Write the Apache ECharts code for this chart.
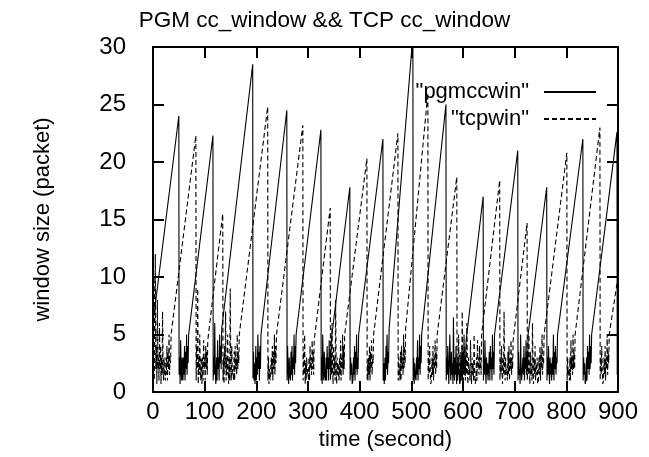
<!DOCTYPE html>
<html>
<head>
<meta charset="utf-8">
<script src="https://cdn.jsdelivr.net/npm/echarts/dist/echarts.min.js"></script>
<style>html,body{margin:0;padding:0;background:#fff;}#c{width:649px;height:457px;}</style>
</head>
<body>
<div id="c"></div>
<script>
const titleText = 'PGM cc_window && TCP cc_window';
const xName = 'time (second)';
const yName = 'window size (packet)';
const seriesNames = ['"pgmccwin"', '"tcpwin"'];
const xTicks = [0, 100, 200, 300, 400, 500, 600, 700, 800, 900];
const yTicks = [0, 5, 10, 15, 20, 25, 30];

// [time (s), window (packets)]
const pgmccwin = [
[0,6],[50,24],[50.5,1.5],[51.5,3],[52.5,0.7],[53.5,4.5],[54.5,2],[55.5,1],[56.5,3],[57.5,1.5],
[58,1],[59,3],[60,1.5],[61,4],[62,1],[63,3.5],[64,2],[65,5],[66,1.5],[67,4],[68,2.5],[69,5],
[116,22.3],[116.5,1],[117.5,3],[118.5,1.5],[119.5,6],[120.5,2],[121.5,0.7],
[122,1],[123,3],[124,1],[125,4.5],[126,2],[127,3],[128,1],[129,5],[130,2.5],[131,4],[132,2],[133,5.5],
[193,28.5],[193.5,1.2],[194.5,3.5],[195.5,1],[196.5,2.5],[197.5,0.7],
[198,1.5],[199,4],[200,1],[201,3],[202,1.5],[203,5],[204,2],[205,3.5],[206,1],[207,4],[208,2],[209,5],
[259,24.5],[259.5,1],[260.5,4],[261.5,2],[262.5,0.7],[263.5,3],[264.5,1.5],
[266,1],[267,3.5],[268,1.5],[269,4],[270,1],[271,3],[272,2],[273,5],[274,1.5],[275,4],[276,2.5],[277,5],
[325,22.8],[325.5,1],[326.5,3],[327.5,0.7],[328.5,5],[329.5,2],[330.5,1],[331.5,3.5],[332.5,1.5],
[334,1],[335,3],[336,1],[337,4],[338,2],[339,3],[340,1],[341,4.5],[342,2],[343,3.5],[344,1.5],[345,4.5],
[381,17.8],[381.5,1],[382.5,3],[383.5,1.5],[384.5,2.5],[385.5,0.7],
[387,1],[388,3],[389,1.5],[390,4],[391,1],[392,3.5],[393,2],[394,5],[395,1.5],[396,3],[397,2],[398,5],
[445,22],[445.5,1],[446.5,2.5],[447.5,0.7],
[448,1.2],[449,3],[450,1],[451,4],[452,2],[453,5],[454,1.5],[455,3.5],[456,2.5],[457,5.5],
[503,31],[503.5,1],[504.5,3],[505.5,0.7],[506.5,2.5],[507.5,1.5],
[509,1],[510,3],[511,1.5],[512,4.5],[513,1],[514,3],[515,2],[516,5],[517,1.5],[518,4],[519,2.5],[520,5],
[567,25],[567.5,1],[568.5,3],[569.5,1.5],[570.5,4],[571.5,2],[572.5,0.7],[573.5,3],[574.5,5],[575.5,2],[576.5,1],[577.5,3.5],[578.5,1.5],[579.5,2.5],[580.5,0.7],[581.5,6.5],[582.5,2],[583.5,1],[584.5,3],[585.5,1.5],[586.5,4],[587.5,0.7],[588.5,2.5],[589.5,1],[590.5,3],[591.5,1.5],[592.5,2],[593.5,0.7],
[595,1],[596,3],[597,1.5],[598,4],[599,1],[600,3.5],[601,2],[602,5],[603,1.5],[604,3],[605,2],[606,4.5],
[639,17],[639.5,1],[640.5,3],[641.5,1.5],[642.5,4.5],[643.5,2],[644.5,0.7],[645.5,3],[646.5,1.5],[647.5,2.5],[648.5,1],
[650,1],[651,3.5],[652,1],[653,4],[654,2],[655,3],[656,1],[657,5],[658,2],[659,3.5],[660,1.5],[661,5],
[706,21],[706.5,1],[707.5,3.5],[708.5,1.5],[709.5,2],[710.5,0.7],[711.5,5],[712.5,2],[713.5,1],
[715,1],[716,3],[717,1.5],[718,4],[719,1],[720,3],[721,2],[722,4.5],[723,1.5],[724,3.5],[725,2],[726,5],
[762,17.8],[762.5,1],[763.5,3],[764.5,1.5],[765.5,4],[766.5,2],[767.5,0.7],[768.5,3],[769.5,1.5],[770.5,2.5],[771.5,1],
[772,1],[773,3],[774,1.5],[775,5],[776,1],[777,3.5],[778,2],[779,4],[780,1.5],[781,3],[782,2.5],[783,5],
[832,22],[832.5,1],[833.5,3],[834.5,1.5],[835.5,2.5],[836.5,0.7],
[838,1],[839,3],[840,1],[841,4],[842,2],[843,3.5],[844,1.5],[845,5],[846,2],[847,4],[848,2.5],[849,5],
[898,22.6],[898.5,1.5],[899.5,3],[900,2]
];

const tcpwin = [
[0,14],[0.5,3],[1.5,10],[2.5,1],[3.5,5],[4.5,12],[5.5,2],[6.5,4],[7.5,0.7],[8.5,8],[9.5,2],[10.5,3],[11.5,1],[12.5,6],[13.5,2],[14.5,4],[15.5,0.7],[16.5,3],[17.5,1.5],[18.5,7],[19.5,2],[20.5,1],[21.5,3],[22.5,1.5],
[24,1],[25,3],[26,1.5],[27,4],[28,1],[29,3.5],[30,2],[31,5],[32,1.5],[33,3],[34,2.5],[35,5],
[83,22.3],[83.5,1],[84.5,4],[85.5,2],[86.5,9],[87.5,0.7],[88.5,3],[89.5,1.5],[90.5,5],[91.5,2],[92.5,1],[93.5,3],[94.5,0.7],
[95,1],[96,3],[97,1],[98,4.5],[99,2],[100,3],[101,1],[102,4],[103,2],[104,3.5],[105,1.5],[106,4.5],
[135,15.5],[135.5,1],[136.5,3],[137.5,0.7],[138.5,4],[139.5,2],[140.5,7],[141.5,1],[142.5,3],[143.5,1.5],[144.5,5],[145.5,2],[146.5,0.7],[147.5,3],[148.5,1],[149.5,9],[150.5,2],[151.5,1],[152.5,4],[153.5,1.5],[154.5,2],
[156,1],[157,3.5],[158,1],[159,4],[160,2],[161,3],[162,1.5],[163,5],[164,2],[165,3.5],[166,2.5],[167,5],
[222,24.8],[222.5,1],[223.5,3],[224.5,0.7],[225.5,2],[226.5,1],
[228,1],[229,3],[230,1.5],[231,4],[232,1],[233,3.5],[234,2],[235,5],[236,1.5],[237,4],[238,2.5],[239,5],
[290,23.2],[290.5,1],[291.5,3.5],[292.5,1.5],[293.5,5],[294.5,0.7],[295.5,2.5],[296.5,1],[297.5,3],[298.5,1.5],[299.5,2],
[301,1],[302,3],[303,1],[304,4],[305,2],[306,3],[307,1.5],[308,4.5],[309,2],[310,3.5],[311,1.5],[312,4.5],
[343,16],[343.5,1],[344.5,3],[345.5,1.5],[346.5,6],[347.5,2],[348.5,0.7],[349.5,4],[350.5,1.5],[351.5,3],[352.5,1],[353.5,8],[354.5,2],[355.5,0.7],[356.5,3],[357.5,1.5],[358.5,2.5],
[360,1],[361,3],[362,1.5],[363,4.5],[364,1],[365,3],[366,2],[367,5],[368,1.5],[369,4],[370,2],[371,5],
[414,20.3],[414.5,1],[415.5,2.5],
[416,1],[417,3],[418,1.5],[419,4],[420,1],[421,3.5],[422,2],[423,4.5],[424,1.5],[425,3],[426,2.5],[427,5],
[474,22.5],[474.5,1],[475.5,3],[476.5,1.5],[477.5,2],
[478,1],[479,3.5],[480,1],[481,4],[482,2],[483,3],[484,1.5],[485,5],[486,2],[487,4],[488,2.5],[489,5.5],
[532,26],[532.5,1],[533.5,3],[534.5,1.5],[535.5,4],[536.5,2],[537.5,0.7],
[539,1],[540,3],[541,1.5],[542,4],[543,1],[544,3],[545,2],[546,4.5],[547,1.5],[548,3.5],[549,2],[550,5],
[588,18.7],[588.5,1],[589.5,3],[590.5,1.5],[591.5,5],[592.5,2],[593.5,0.7],[594.5,3.5],[595.5,1.5],[596.5,2.5],[597.5,1],[598.5,7],[599.5,2],[600.5,0.7],[601.5,3],[602.5,1.5],[603.5,4],[604.5,1],[605.5,2.5],[606.5,1.5],[607.5,6],[608.5,2],[609.5,0.7],[610.5,3],[611.5,1.5],[612.5,2],[613.5,1],[614.5,4.5],[615.5,2],[616.5,0.7],[617.5,3],[618.5,1.5],[619.5,2.5],[620.5,1],[621.5,5],[622.5,2],[623.5,0.7],
[625,1],[626,3],[627,1],[628,4.5],[629,2],[630,3],[631,1.5],[632,4],[633,2],[634,3],[635,1.5],[636,5],
[671,18.4],[671.5,1],[672.5,3],[673.5,1.5],[674.5,4],[675.5,2],[676.5,0.7],[677.5,3],[678.5,1.5],[679.5,7],[680.5,2],[681.5,1],[682.5,3],[683.5,1.5],[684.5,2],
[686,1],[687,3.5],[688,1.5],[689,4],[690,1],[691,3],[692,2],[693,4.5],[694,1.5],[695,3],[696,2],[697,4.5],
[724,14.7],[724.5,1],[725.5,3],[726.5,1.5],[727.5,5],[728.5,2],[729.5,0.7],[730.5,3.5],[731.5,1.5],[732.5,2.5],[733.5,1],[734.5,6],[735.5,2],[736.5,0.7],[737.5,3],[738.5,1.5],[739.5,4],[740.5,1],[741.5,2.5],[742.5,1.5],[743.5,3],[744.5,0.7],
[746,1],[747,3],[748,1.5],[749,4],[750,1],[751,3.5],[752,2],[753,5],[754,1.5],[755,3],[756,2.5],[757,5],
[801,20.8],[801.5,1],[802.5,3],[803.5,1.5],[804.5,2],
[806,1],[807,3],[808,1],[809,4.5],[810,2],[811,3],[812,1.5],[813,5],[814,2],[815,3.5],[816,2],[817,5],
[865,23],[865.5,1],[866.5,3],[867.5,1.5],[868.5,4],[869.5,2],[870.5,0.7],
[872,1],[873,3],[874,1.5],[875,4],[876,1],[877,3],[878,2],[879,5],[880,1.5],[881,3.5],[882,2.5],[883,5],
[900,10]
];

const FONT = '"Liberation Sans", Arial, Helvetica, sans-serif';
const black = '#000';

function xAxisDef(pos, showLabels) {
  return {
    type: 'value', position: pos,
    min: xTicks[0], max: xTicks[xTicks.length - 1], interval: xTicks[1] - xTicks[0],
    name: showLabels ? xName : '', nameLocation: 'middle', nameGap: 33,
    nameTextStyle: { fontFamily: FONT, fontSize: 22, color: black },
    axisLine: { show: true, onZero: false, lineStyle: { color: black, width: 2 } },
    axisTick: { show: true, inside: true, length: 11, lineStyle: { color: black, width: 2 } },
    axisLabel: { show: showLabels, fontFamily: FONT, fontSize: 24, color: black, margin: 8 },
    splitLine: { show: false }
  };
}
function yAxisDef(pos, showLabels) {
  return {
    type: 'value', position: pos,
    min: yTicks[0], max: yTicks[yTicks.length - 1], interval: yTicks[1] - yTicks[0],
    name: showLabels ? yName : '', nameLocation: 'middle', nameGap: 99,
    nameTextStyle: { fontFamily: FONT, fontSize: 22, color: black },
    axisLine: { show: true, onZero: false, lineStyle: { color: black, width: 2 } },
    axisTick: { show: true, inside: true, length: 11, lineStyle: { color: black, width: 2 } },
    axisLabel: { show: showLabels, fontFamily: FONT, fontSize: 24, color: black, margin: 27 },
    splitLine: { show: false }
  };
}

const chart = echarts.init(document.getElementById('c'), null, { renderer: 'canvas' });
chart.setOption({
  animation: false,
  backgroundColor: '#fff',
  title: {
    text: titleText, left: 'center', top: 4,
    textStyle: { fontFamily: FONT, fontSize: 22.5, fontWeight: 'normal', color: black }
  },
  grid: { left: 153, right: 31, top: 47, bottom: 65, show: false },
  legend: {
    data: seriesNames, orient: 'vertical', align: 'right',
    right: 47, top: 76, itemWidth: 52, itemHeight: 14, itemGap: 5,
    itemStyle: { color: 'transparent', borderColor: 'transparent', borderWidth: 0, opacity: 0 },
    textStyle: { fontFamily: FONT, fontSize: 22, color: black, padding: [0, 10, 0, 0] }
  },
  xAxis: [xAxisDef('bottom', true), xAxisDef('top', false)],
  yAxis: [yAxisDef('left', true), yAxisDef('right', false)],
  series: [
    { name: seriesNames[0], type: 'line', data: pgmccwin, symbol: 'none', clip: true,
      xAxisIndex: 0, yAxisIndex: 0,
      lineStyle: { color: black, width: 1.1 }, itemStyle: { color: black } },
    { name: seriesNames[1], type: 'line', data: tcpwin, symbol: 'none', clip: true,
      xAxisIndex: 0, yAxisIndex: 0,
      lineStyle: { color: black, width: 1.1, type: [5, 3] }, itemStyle: { color: black } }
  ]
});
</script>
</body>
</html>
